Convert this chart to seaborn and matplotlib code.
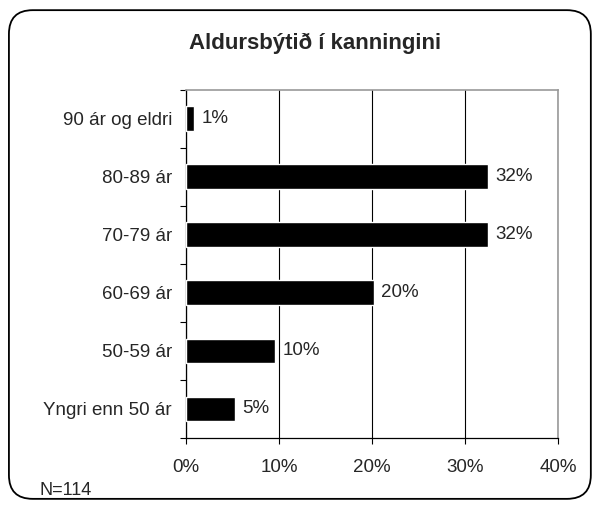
import numpy as np
import pandas as pd
import seaborn as sns
import matplotlib.pyplot as plt
from matplotlib.patches import FancyBboxPatch
from matplotlib.ticker import FixedLocator, PercentFormatter

# Aldursbýtið
categories = ['90 ár og eldri', '80-89 ár', '70-79 ár', '60-69 ár', '50-59 ár', 'Yngri enn 50 ár']
shares = [0.9, 32.5, 32.5, 20.2, 9.6, 5.3]
labels = ['1%', '32%', '32%', '20%', '10%', '5%']
xticks = [0, 10, 20, 30, 40]

sns.set_style('white')
plt.rcParams['font.family'] = ['Liberation Sans', 'DejaVu Sans']

df = pd.DataFrame({'Aldur': categories, 'Partur': shares})

fig = plt.figure(figsize=(5.95, 5.08), dpi=100)
ax = fig.add_axes([0.3126, 0.1378, 0.6252, 0.6852])

sns.barplot(data=df, x='Partur', y='Aldur', orient='h', color='black',
            width=0.43, saturation=1, ax=ax, zorder=3)

ax.bar_label(ax.containers[0], labels=labels, padding=5, fontsize=13.5)

ax.set_xlim(0, 40)
ax.set_ylim(len(categories) - 0.5, -0.5)
ax.set_xticks(xticks)
ax.xaxis.set_major_formatter(PercentFormatter(decimals=0))
ax.grid(axis='x', color='black', linewidth=0.8, zorder=0)
ax.set_axisbelow(True)
ax.set_xlabel('')
ax.set_ylabel('')

ax.yaxis.set_minor_locator(FixedLocator(np.arange(-0.5, len(categories), 1)))
ax.tick_params(axis='y', which='major', length=0, pad=10, labelsize=13.5)
ax.tick_params(axis='y', which='minor', left=True, length=4, width=0.8, color='black', direction='out')
ax.tick_params(axis='x', bottom=True, length=4, width=0.8, color='black', direction='out', pad=11, labelsize=13.5)

for side in ['left', 'bottom']:
    ax.spines[side].set_color('black')
    ax.spines[side].set_linewidth(0.9)
for side in ['top', 'right']:
    ax.spines[side].set_color('#999999')
    ax.spines[side].set_linewidth(1.2)

fig.text(0.53, 0.915, 'Aldursbýtið í kanningini', ha='center', va='center',
         fontsize=16, fontweight='bold')
fig.text(0.066, 0.035, 'N=114', ha='left', va='center', fontsize=13)

border = FancyBboxPatch((0.015, 0.018), 0.978, 0.962, transform=fig.transFigure,
                        boxstyle='round,pad=0,rounding_size=0.04', facecolor='none',
                        edgecolor='black', linewidth=1.3, mutation_aspect=595 / 508)
fig.patches.append(border)

fig.savefig('out.png', dpi=100)
